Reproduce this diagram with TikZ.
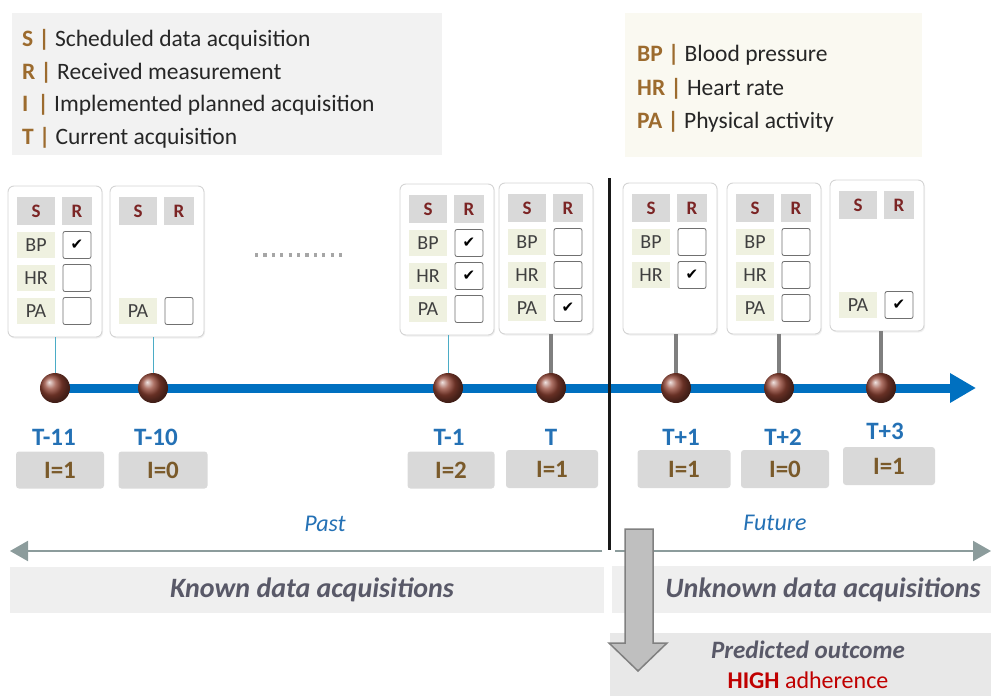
\documentclass[tikz,border=0pt]{standalone}
\usepackage{fontspec}
\setmainfont{Carlito}
\newfontfamily\symfont{DejaVu Sans}
\usetikzlibrary{arrows.meta,shadows}
\definecolor{tlblue}{HTML}{0070C0}
\definecolor{lblblue}{HTML}{2471B5}
\definecolor{itext}{HTML}{7A5A2A}
\definecolor{legc}{HTML}{9C6B2E}
\definecolor{srred}{HTML}{7B2424}
\definecolor{hdrgray}{HTML}{D9D9D9}
\definecolor{lblfill}{HTML}{EFF1E0}
\definecolor{boxline}{HTML}{707070}
\definecolor{cardline}{HTML}{D4D4D4}
\definecolor{darktext}{HTML}{404040}
\definecolor{stemblue}{HTML}{4BACC6}
\definecolor{stemgray}{HTML}{7F7F7F}
\definecolor{ballc}{HTML}{934434}
\definecolor{arrgray}{HTML}{8C9C9C}
\definecolor{bandgray}{HTML}{EFEFEF}
\definecolor{bandtext}{HTML}{595968}
\definecolor{hired}{HTML}{C00000}
\definecolor{legRfill}{HTML}{FAF9F1}
\definecolor{legLfill}{HTML}{F2F2F2}
\begin{document}
\begin{tikzpicture}[x=1pt,y=-1pt,
  card/.style={draw=cardline, fill=white, rounded corners=6pt, line width=0.9pt,
    minimum width=94pt, minimum height=151pt, inner sep=0pt,
    drop shadow={opacity=0.12, shadow xshift=1pt, shadow yshift=-1.5pt}},
  hbox/.style={fill=hdrgray, minimum width=38pt, minimum height=28pt, inner sep=0pt,
    font=\fontsize{19}{19}\selectfont\bfseries, text=srred},
  lbox/.style={fill=lblfill, minimum width=38pt, minimum height=26pt, inner sep=0pt,
    font=\fontsize{20}{20}\selectfont, text=darktext},
  cbox/.style={draw=boxline, fill=white, rounded corners=2pt, minimum width=28pt,
    minimum height=27pt, inner sep=0pt, line width=0.8pt,
    font=\symfont\fontsize{15}{15}\selectfont},
  legtext/.style={anchor=base west, inner sep=0pt, font=\fontsize{23.5}{23.5}\selectfont, text=black!85},
  tlabel/.style={font=\fontsize{25}{25}\selectfont\bfseries, text=lblblue, inner sep=0pt},
  ibox/.style={fill=hdrgray, rounded corners=3pt, minimum height=37pt, inner sep=0pt,
    font=\fontsize{25}{25}\selectfont\bfseries, text=itext},
  ball/.style={circle, minimum size=30pt, inner sep=0pt, shading=ball, ball color=ballc},
  thinstem/.style={draw=stemblue, line width=0.9pt},
  thickstem/.style={draw=stemgray, line width=4pt},
  band/.style={fill=bandgray, inner sep=0pt},
  bandlbl/.style={font=\fontsize{28}{28}\selectfont\bfseries\itshape, text=bandtext},
  timelbl/.style={font=\fontsize{24}{24}\selectfont\itshape, text=lblblue},
  grayarrow/.style={draw=arrgray, line width=2pt, -{Triangle[length=18pt,width=20pt]}}
]
\path[use as bounding box] (0,0) rectangle (991,696);

% legends
\node[fill=legLfill, minimum width=430pt, minimum height=142pt, inner sep=0pt] (legL) at (227,84) {};
\node[legtext] (l1) at (22,46) {{\bfseries\color{legc}S |} Scheduled data acquisition};
\node[legtext] (l2) at (22,79) {{\bfseries\color{legc}R |} Received measurement};
\node[legtext] (l3) at (22,111) {{\bfseries\color{legc}I \,|} Implemented planned acquisition};
\node[legtext] (l4) at (22,144) {{\bfseries\color{legc}T |} Current acquisition};

\node[fill=legRfill, minimum width=297pt, minimum height=144pt, inner sep=0pt] (legR) at (773,85) {};
\node[legtext] (r1) at (637,61) {{\bfseries\color{legc}BP |} Blood pressure};
\node[legtext] (r2) at (637,95) {{\bfseries\color{legc}HR |} Heart rate};
\node[legtext] (r3) at (637,128) {{\bfseries\color{legc}PA |} Physical activity};

% cards
\node[card] (c1) at (55,261.5) {};
\node[card] (c2) at (157,261.5) {};
\node[card] (c3) at (447,259.5) {};
\node[card] (c4) at (546,258.5) {};
\node[card] (c5) at (670,258.5) {};
\node[card] (c6) at (774,258.5) {};
\node[card] (c7) at (877,255.5) {};

\newcommand\hdrs[3]{%
  \node[hbox] (#1S) at (#2+28,#3+25) {S};
  \node[hbox, minimum width=30pt] (#1R) at (#2+69,#3+25) {R};}
\newcommand\mrow[5]{%
  \node[lbox] (#1l) at (#2+28,#3) {#4};
  \node[cbox] (#1c) at (#2+69,#3) {#5};}

\hdrs{a}{8}{186}
\mrow{aBP}{8}{245}{BP}{✔}
\mrow{aHR}{8}{278}{HR}{}
\mrow{aPA}{8}{311}{PA}{}

\hdrs{b}{110}{186}
\mrow{bPA}{110}{311}{PA}{}

\hdrs{c}{400}{184}
\mrow{cBP}{400}{243}{BP}{✔}
\mrow{cHR}{400}{276}{HR}{✔}
\mrow{cPA}{400}{309}{PA}{}

\hdrs{d}{499}{183}
\mrow{dBP}{499}{242}{BP}{}
\mrow{dHR}{499}{275}{HR}{}
\mrow{dPA}{499}{308}{PA}{✔}

\hdrs{e}{623}{183}
\mrow{eBP}{623}{242}{BP}{}
\mrow{eHR}{623}{275}{HR}{✔}

\hdrs{f}{727}{183}
\mrow{fBP}{727}{242}{BP}{}
\mrow{fHR}{727}{275}{HR}{}
\mrow{fPA}{727}{308}{PA}{}

\hdrs{g}{830}{180}
\mrow{gPA}{830}{305}{PA}{✔}

% dots
\coordinate (d0) at (255,255);
\coordinate (d1) at (342,255);
\draw[draw=black!35, line width=3.2pt, dash pattern=on 3.2pt off 5.2pt] (d0) -- (d1);

% ball positions
\coordinate (p1) at (55,388);
\coordinate (p2) at (153,388);
\coordinate (p3) at (448,388);
\coordinate (p4) at (551,388);
\coordinate (p5) at (676,388);
\coordinate (p6) at (779,388);
\coordinate (p7) at (881,388);

% stems (vertical)
\draw[thinstem] (p1 |- c1.south) -- (p1);
\draw[thinstem] (p2 |- c2.south) -- (p2);
\draw[thinstem] (p3 |- c3.south) -- (p3);
\draw[thickstem] (p4 |- c4.south) -- (p4);
\draw[thickstem] (p5 |- c5.south) -- (p5);
\draw[thickstem] (p6 |- c6.south) -- (p6);
\draw[thickstem] (p7 |- c7.south) -- (p7);

% timeline
\coordinate (tlend) at (976,388);
\draw[draw=tlblue, line width=9pt, -{Triangle[length=26pt,width=28pt]}] (p1) -- (tlend);

% balls
\node[ball] (b1) at (p1) {};
\node[ball] (b2) at (p2) {};
\node[ball] (b3) at (p3) {};
\node[ball] (b4) at (p4) {};
\node[ball] (b5) at (p5) {};
\node[ball] (b6) at (p6) {};
\node[ball] (b7) at (p7) {};

% time labels
\node[tlabel] (t1) at (54,437) {T-11};
\node[tlabel] (t2) at (156,437) {T-10};
\node[tlabel] (t3) at (449,437) {T-1};
\node[tlabel] (t4) at (551,437) {T};
\node[tlabel] (t5) at (681,437) {T+1};
\node[tlabel] (t6) at (783,437) {T+2};
\node[tlabel] (t7) at (885,431) {T+3};

% I boxes
\node[ibox, minimum width=88pt] (i1) at (60,470) {I=1};
\node[ibox, minimum width=89pt] (i2) at (163,470) {I=0};
\node[ibox, minimum width=87pt] (i3) at (451,470) {I=2};
\node[ibox, minimum width=92pt, minimum height=38pt] (i4) at (552,469) {I=1};
\node[ibox, minimum width=93pt, minimum height=38pt] (i5) at (684,469) {I=1};
\node[ibox, minimum width=88pt, minimum height=38pt] (i6) at (785,469) {I=0};
\node[ibox, minimum width=92pt, minimum height=38pt] (i7) at (889,466) {I=1};

% past / future
\node[timelbl] (past) at (325,524) {Past};
\node[timelbl] (future) at (775,523) {Future};

% bands
\node[band, minimum width=594pt, minimum height=46pt] (known) at (307,590) {};
\node[bandlbl] (knownt) at (312,590) {Known data acquisitions};
\node[band, minimum width=379pt, minimum height=47pt] (unknown) at (801.5,589.5) {};
\node[bandlbl] (unknownt) at (823,590) {Unknown data acquisitions};
\node[fill=black!9, minimum width=381pt, minimum height=64pt, inner sep=0pt] (pred) at (800.5,665) {};

% divider and gray arrows
\coordinate (v0) at (609,178);
\coordinate (v1) at (609,550);
\draw[draw=black!90, line width=3pt] (v0) -- (v1);
\coordinate (la0) at (602,551);
\coordinate (la1) at (10,551);
\coordinate (ra0) at (615,551);
\coordinate (ra1) at (991,551);
\draw[grayarrow] (la0) -- (la1);
\draw[grayarrow] (ra0) -- (ra1);

% big down arrow
\draw[fill=black!25, draw=black!50, line width=1.5pt, line join=miter]
  (625,529) -- (653,529) -- (653,643) -- (667,643) -- (638,671) -- (609,643) -- (625,643) -- cycle;

% predicted text
\node[bandlbl, font=\fontsize{25}{25}\selectfont\bfseries\itshape] (predt) at (808,650) {Predicted outcome};
\node[font=\fontsize{24}{24}\selectfont, text=hired] (high) at (808,680) {\textbf{HIGH} adherence};
\end{tikzpicture}
\end{document}
